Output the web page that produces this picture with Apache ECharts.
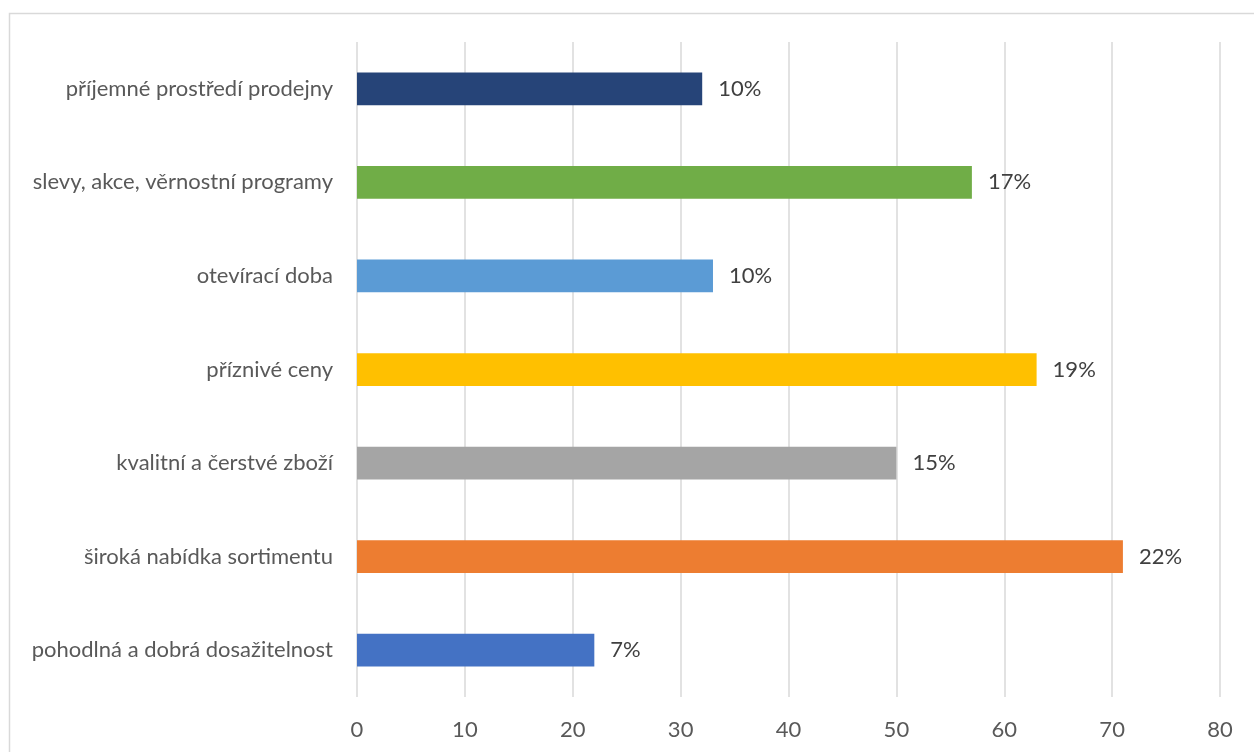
<!DOCTYPE html>
<html>
<head>
<meta charset="utf-8">
<script src="https://cdn.jsdelivr.net/npm/echarts@6/dist/echarts.min.js"></script>
<style>
  html, body { margin: 0; padding: 0; background: #ffffff; }
  #chart { width: 1254px; height: 752px; }
</style>
</head>
<body>
<div id="chart"></div>
<script>
// Categories from bottom to top
const categories = [
  'pohodlná a dobrá dosažitelnost',
  'široká nabídka sortimentu',
  'kvalitní a čerstvé zboží',
  'příznivé ceny',
  'otevírací doba',
  'slevy, akce, věrnostní programy',
  'příjemné prostředí prodejny'
];
// Number of responses per category
const counts = [22, 71, 50, 63, 33, 57, 32];
const barColors = ['#4472C4', '#ED7D31', '#A5A5A5', '#FFC000', '#5B9BD5', '#70AD47', '#264478'];
const xTicks = [0, 10, 20, 30, 40, 50, 60, 70, 80];

const total = counts.reduce((a, b) => a + b, 0);
const fontFamily = 'Lato, Open Sans, sans-serif';

const chart = echarts.init(document.getElementById('chart'), null, { renderer: 'canvas' });
chart.setOption({
  animation: false,
  backgroundColor: '#ffffff',
  graphic: [{
    type: 'rect',
    shape: { x: 9.5, y: 13.5, width: 1260, height: 760 },
    style: { fill: 'none', stroke: '#d9d9d9', lineWidth: 1.5 },
    silent: true
  }],
  grid: { left: 357, right: 34, top: 42, bottom: 55, containLabel: false },
  xAxis: {
    type: 'value',
    min: xTicks[0],
    max: xTicks[xTicks.length - 1],
    interval: 10,
    axisLine: { show: false },
    axisTick: { show: false },
    axisLabel: { color: '#595959', fontSize: 22, fontFamily: fontFamily, margin: 22 },
    splitLine: { show: true, lineStyle: { color: '#d9d9d9', width: 1.5 } }
  },
  yAxis: {
    type: 'category',
    data: categories,
    axisLine: { show: false },
    axisTick: { show: false },
    axisLabel: { color: '#595959', fontSize: 22, fontFamily: fontFamily, margin: 24 },
    splitLine: { show: false }
  },
  series: [{
    type: 'bar',
    data: counts.map((v, i) => ({ value: v, itemStyle: { color: barColors[i] } })),
    barCategoryGap: '65%',
    label: {
      show: true,
      position: 'right',
      distance: 16,
      color: '#404040',
      fontSize: 22,
      fontFamily: fontFamily,
      formatter: p => Math.round(p.value / total * 100) + '%'
    }
  }]
});
</script>
</body>
</html>
